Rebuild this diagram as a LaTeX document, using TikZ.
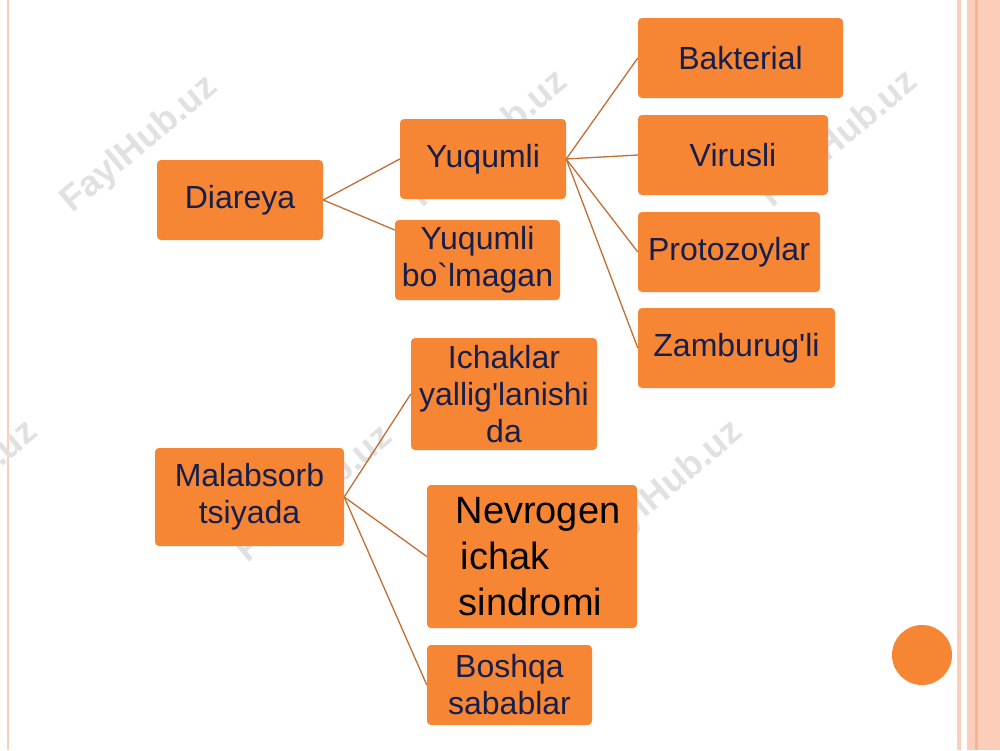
\documentclass[tikz,border=0pt]{standalone}
\usepackage{fontspec}
\setmainfont{Liberation Sans}
\definecolor{boxor}{RGB}{247,134,52}
\definecolor{lnc}{RGB}{196,110,50}
\definecolor{txt}{RGB}{22,30,75}
\definecolor{peach}{RGB}{252,205,185}
\definecolor{peachd}{RGB}{246,180,150}
\definecolor{wm}{RGB}{225,225,225}
\newcommand{\apos}{\textquotesingle}
\begin{document}
\begin{tikzpicture}[x=1pt,y=-1pt,
 bx/.style={fill=boxor,rounded corners=4pt,inner sep=0pt,align=center,text=txt,font=\fontsize{32}{37}\selectfont},
 ln/.style={draw=lnc,line width=1.3pt},
 wmk/.style={text=wm,rotate=40,font=\bfseries\fontsize{36}{38}\selectfont}]
\useasboundingbox (0,0) rectangle (1000,750);
\fill[white] (0,0) rectangle (1000,750);
% borders
\fill[peach] (957,0) rectangle (961,750);
\fill[peach] (967,0) rectangle (975,750);
\fill[peachd] (975,0) rectangle (978,750);
\fill[peach] (978,0) rectangle (1000,750);
\draw[peach,line width=1.5pt] (8,0) -- (8,750);
% watermarks
\node[wmk] (w1) at (140,145) {FaylHub.uz};
\node[wmk] (w2) at (490,140) {FaylHub.uz};
\node[wmk] (w3) at (840,140) {FaylHub.uz};
\node[wmk] (w4) at (315,495) {FaylHub.uz};
\node[wmk] (w5) at (665,490) {FaylHub.uz};
\node[wmk] (w6) at (-40,490) {FaylHub.uz};
% nodes
\node[bx,minimum width=166,minimum height=80] (d) at (240,200) {Diareya};
\node[bx,minimum width=166,minimum height=80] (y) at (483,159) {Yuqumli};
\node[bx,minimum width=165,minimum height=80] (yb) at (477.5,260) {Yuqumli\\bo\textasciigrave lmagan};
\node[bx,minimum width=205,minimum height=80] (b) at (740.5,58) {Bakterial};
\node[bx,minimum width=190,minimum height=80] (v) at (733,155) {Virusli};
\node[bx,minimum width=182,minimum height=80] (p) at (729,252) {Protozoylar};
\node[bx,minimum width=197,minimum height=80] (z) at (736.5,348) {Zamburug\apos li};
\node[bx,minimum width=186,minimum height=112] (i) at (504,394) {Ichaklar\\yallig\apos lanishi\\da};
\node[bx,minimum width=189,minimum height=98] (m) at (249.5,497) {Malabsorb\\tsiyada};
\node[bx,minimum width=210,minimum height=143] (n) at (532,556.5) {};
\node[text=black,align=left,font=\fontsize{38}{46}\selectfont,inner sep=0pt] (nt) at (538,557) {Nevrogen\\\hspace*{5pt}ichak\\\hspace*{3pt}sindromi};
\node[bx,minimum width=165,minimum height=80] (o) at (509.5,685) {Boshqa\\sabablar};
\fill[boxor] (922,655) circle (30);
% connectors
\draw[ln] (d.east) -- (y.west);
\draw[ln] (d.east) -- (yb.west|-0,230);
\foreach \t in {b,v,p,z} \draw[ln] (y.east) -- (\t.west);
\draw[ln] (m.east) -- (i.west);
\draw[ln] (m.east) -- (n.west);
\draw[ln] (m.east) -- (o.west);
\end{tikzpicture}
\end{document}
